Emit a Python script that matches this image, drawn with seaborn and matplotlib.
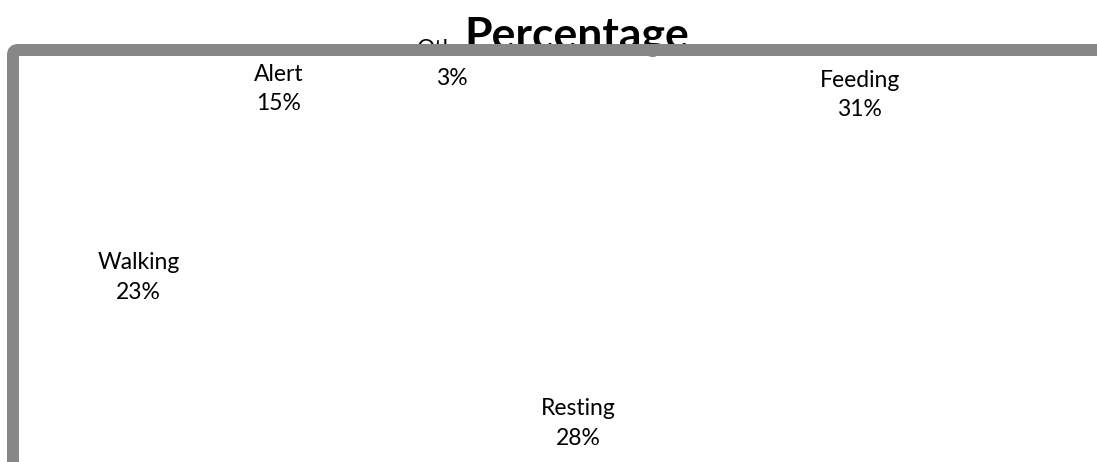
import matplotlib
matplotlib.use('Agg')
import matplotlib.pyplot as plt
from matplotlib.patches import FancyBboxPatch
from matplotlib.transforms import IdentityTransform
import seaborn as sns

# share of observed time per activity
activities = ['Feeding', 'Resting', 'Walking', 'Alert', 'Others']
percentages = [31, 28, 23, 15, 3]

# small label shifts (data units) to mimic the original label placement
label_nudge = [(0.0, 0.0), (-0.18, 0.0), (0.0, 0.0), (0.0, -0.20), (-0.09, -0.29)]

sns.set_theme(style='white')
plt.rcParams['font.family'] = ['Lato', 'DejaVu Sans']

fig = plt.figure(figsize=(10.97, 4.62), dpi=100)
ax = fig.add_axes([0, 0, 1, 1])

labels = [f'{a}\n{p}%' for a, p in zip(activities, percentages)]
wedges, texts = ax.pie(
    percentages, labels=labels, startangle=90, counterclock=False,
    colors=['white'] * len(percentages), wedgeprops=dict(linewidth=0),
    labeldistance=1.0,
    textprops=dict(fontsize=16.5, color='black', ha='center', va='center',
                   linespacing=1.5),
)
for t, (dx, dy) in zip(texts, label_nudge):
    x, y = t.get_position()
    t.set_position((x + dx, y + dy))

# stretched plot area like the original
ax.set_aspect('auto')
ax.set_xlim(-1.3036, 1.4151)
ax.set_ylim(-1.129, 1.0)
ax.set_axis_off()

fig.text(577 / 1097, 1 - 48 / 462, 'Percentage', ha='center', va='baseline',
         fontsize=32, fontweight='bold', color='black', zorder=5,
         bbox=dict(facecolor='white', edgecolor='none', pad=1))

# chart area border (only top and left visible)
frame = FancyBboxPatch((13, -100), 1300, 512, boxstyle='round,pad=0,rounding_size=5',
                       transform=IdentityTransform(), fill=False,
                       edgecolor='#878787', linewidth=12 * 72 / 100, zorder=10)
fig.add_artist(frame)

fig.savefig('out.png', dpi=100, facecolor='white')
